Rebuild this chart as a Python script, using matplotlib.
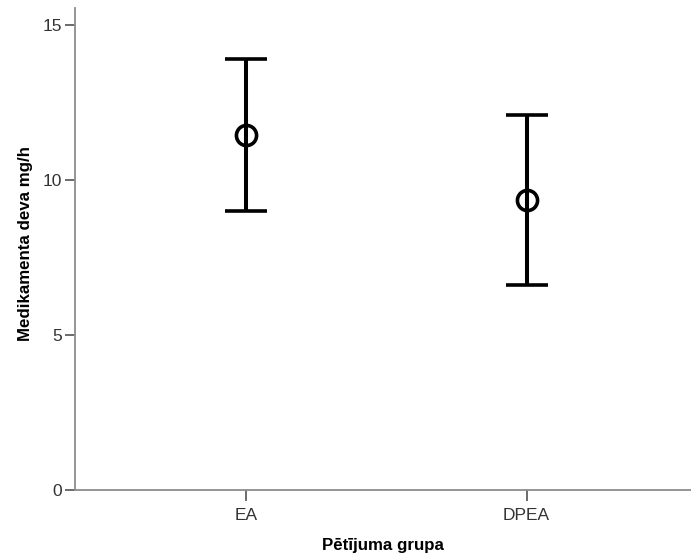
import matplotlib
matplotlib.use("Agg")
import matplotlib.pyplot as plt
import numpy as np

plt.rcParams['font.family'] = ['Liberation Sans', 'DejaVu Sans']

groups = ["EA", "DPEA"]
means = [11.44, 9.37]
upper = [13.91, 12.10]
lower = [8.99, 6.60]
yticks = [0, 5, 10, 15]

fig = plt.figure(figsize=(6.91, 5.56), dpi=100)
ax = fig.add_axes([0.109, 0.1196, 0.891, 0.866])

x = np.arange(len(groups))
m = np.array(means)
yerr = np.vstack([m - np.array(lower), np.array(upper) - m])
ax.errorbar(x, m, yerr=yerr, fmt='o', color='black', ecolor='black',
            elinewidth=2.9, capsize=15, capthick=2.9,
            markersize=14.5, markerfacecolor='none', markeredgewidth=2.6,
            markeredgecolor='black')

ax.set_xlim(-0.611, 1.587)
ax.set_ylim(0, 15.56)
ax.set_xticks(x)
ax.set_xticklabels(groups)
ax.set_yticks(yticks)

for s in ['top', 'right']:
    ax.spines[s].set_visible(False)
for s in ['left', 'bottom']:
    ax.spines[s].set_color('#8c8c8c')
    ax.spines[s].set_linewidth(1.3)

ax.tick_params(axis='y', direction='out', length=7.5, width=1.1, color='#444444',
               labelsize=12.5, labelcolor='#333333', pad=2)
ax.tick_params(axis='x', direction='out', length=8, width=1.1, color='#444444',
               labelsize=12.5, labelcolor='#333333', pad=5)

ax.set_ylabel("Medikamenta deva mg/h", fontsize=12.2, fontweight='bold')
ax.yaxis.set_label_coords(-0.069, 0.51)
ax.set_xlabel("Pētījuma grupa", fontsize=12.2, fontweight='bold', labelpad=11)

fig.savefig("out.png", dpi=100)
